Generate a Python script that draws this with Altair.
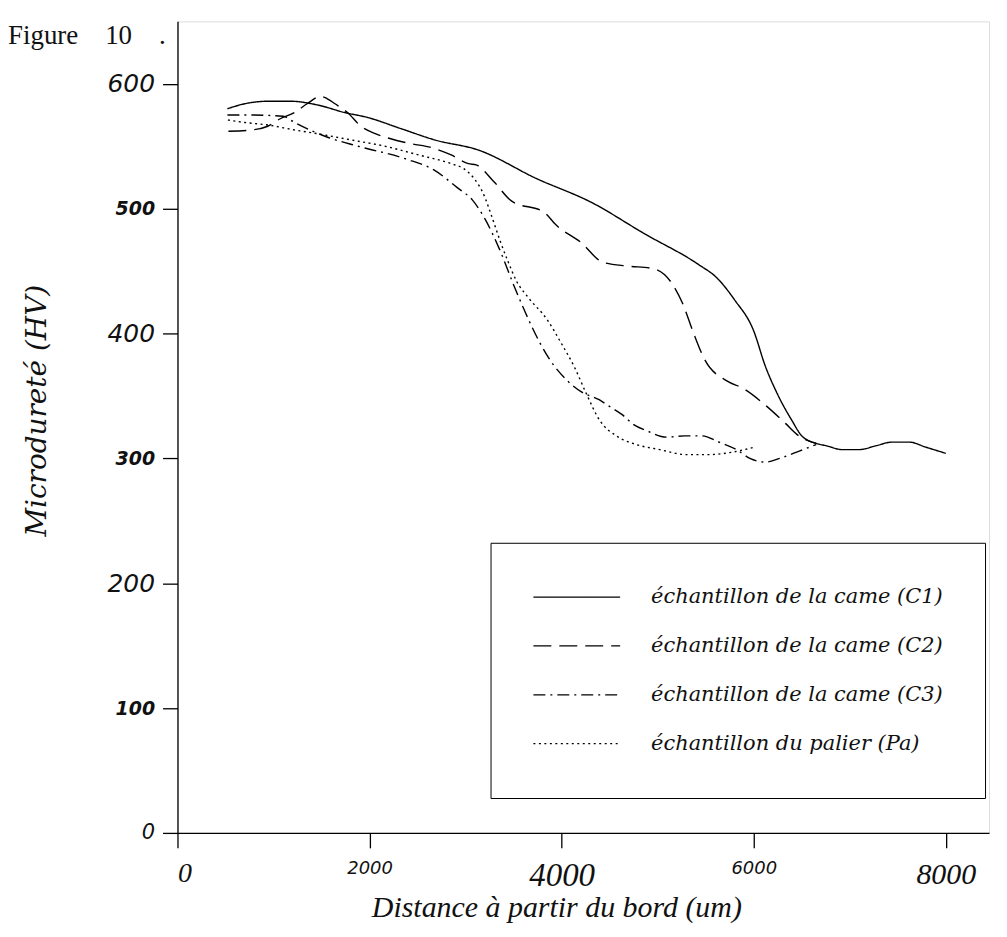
import altair as alt
import pandas as pd

SERIES = [
    "échantillon de la came (C1)",
    "échantillon de la came (C2)",
    "échantillon de la came (C3)",
    "échantillon du palier (Pa)",
]

C1_x = [520, 700, 940, 1180, 1460, 1740, 1980, 2330, 2680, 3130, 3740, 4310, 4860, 5430, 5610,
        5800, 6000, 6120, 6250, 6400, 6500, 6650, 6760, 6920, 7100, 7270, 7440, 7620, 7790, 8000]
C1_y = [580, 584, 586, 586, 583, 577, 573, 564, 555, 547, 524, 505, 480, 455, 445,
        427, 402, 374, 351, 330, 318, 312, 310, 307, 307, 310, 313, 313, 309, 304]

C2_x = [530, 770, 940, 1070, 1220, 1350, 1490, 1560, 1640, 1770, 1910, 2060, 2220, 2430, 2640,
        2850, 3030, 3110, 3290, 3480, 3820, 3940, 4200, 4430, 4690, 4950, 5140, 5260, 5370,
        5490, 5720, 5890, 6130, 6330, 6470, 6650]
C2_y = [562, 563, 566, 572, 577, 584, 590, 588, 584, 577, 566, 560, 556, 552, 549,
        543, 536, 535, 522, 506, 497, 487, 473, 457, 454, 452, 441, 424, 401,
        379, 362, 356, 342, 328, 318, 312]

C3_x = [520, 760, 1100, 1220, 1570, 1880, 2370, 2670, 2910, 3070, 3200, 3350, 3510, 3610, 3680,
        3860, 4090, 4210, 4390, 4490, 4630, 4750, 4890, 5090, 5280, 5460, 5640, 5820, 5960,
        6120, 6270, 6480, 6650]
C3_y = [575, 575, 574, 569, 557, 550, 540, 531, 517, 507, 492, 468, 437, 419, 407,
        381, 360, 353, 347, 342, 335, 327, 322, 317, 318, 318, 313, 307, 300,
        297, 300, 306, 311]

Pa_x = [525, 700, 940, 1220, 1460, 1810, 2160, 2510, 2850, 2980, 3090, 3190, 3280, 3360, 3440,
        3530, 3650, 3850, 3990, 4140, 4250, 4400, 4570, 4780, 5020, 5300, 5540, 5780, 6010]
Pa_y = [571, 569, 567, 563, 560, 555, 550, 543, 536, 532, 524, 511, 492, 474, 458,
        442, 429, 411, 393, 372, 353, 330, 318, 311, 307, 303, 303, 305, 309]

X_TICKS = [0, 2000, 4000, 6000, 8000]
Y_TICKS = [0, 100, 200, 300, 400, 500, 600]

rows = []
for name, xs, ys in zip(SERIES, [C1_x, C2_x, C3_x, Pa_x], [C1_y, C2_y, C3_y, Pa_y]):
    for xv, yv in zip(xs, ys):
        rows.append({"serie": name, "dist": xv, "hv": yv})
df = pd.DataFrame(rows)

INK = "#111111"

x_axis = alt.Axis(
    values=X_TICKS, format="d", grid=False,
    tickSize=15, tickWidth=1.3, tickColor="black",
    domainColor="black", domainWidth=1.3,
    labelPadding=12, labelColor=INK, labelFontStyle="italic",
    labelFont={"condition": {"test": "datum.value % 4000 == 0", "value": "Liberation Serif"},
               "value": "DejaVu Sans"},
    labelFontSize={"condition": [{"test": "datum.value == 4000", "value": 33},
                                 {"test": "datum.value == 8000", "value": 30},
                                 {"test": "datum.value == 0", "value": 28}],
                   "value": 18},
    title="Distance à partir du bord (um)",
    titleFont="Liberation Serif", titleFontStyle="italic", titleFontWeight="normal",
    titleFontSize=30, titleColor=INK, titleBaseline="middle",
    titleX=380, titleY=75,
)

y_axis = alt.Axis(
    values=Y_TICKS, grid=False,
    tickSize=15, tickWidth=1.3, tickColor="black",
    domainColor="black", domainWidth=1.3,
    labelPadding=8, labelColor=INK, labelFont="DejaVu Sans", labelFontStyle="italic",
    labelFontSize={"condition": [{"test": "datum.value == 0", "value": 21},
                                 {"test": "datum.value % 200 == 0", "value": 25}],
                   "value": 19},
    labelFontWeight={"condition": {"test": "datum.value % 200 != 0", "value": "bold"},
                     "value": "normal"},
    title="Microdureté (HV)",
    titleFont="DejaVu Serif", titleFontStyle="italic", titleFontWeight="normal",
    titleFontSize=28, titleColor=INK, titleBaseline="middle",
    titleX=-140, titleY=390,
)

legend = alt.Legend(
    title=None, orient="none", legendX=314, legendY=523,
    symbolType="stroke", symbolSize=7569, symbolStrokeWidth=1.3,
    symbolStrokeColor="black", clipHeight=25,
    labelFont="DejaVu Serif", labelFontStyle="italic", labelFontSize=21,
    labelColor=INK, labelOffset=30, labelLimit=600,
    rowPadding=24, padding=42,
    strokeColor="black", fillColor="white", cornerRadius=0,
)

chart = alt.Chart(df).mark_line(
    color="black", strokeWidth=1.4, interpolate="monotone"
).encode(
    x=alt.X("dist:Q", scale=alt.Scale(domain=[0, 8450], nice=False, zero=False), axis=x_axis),
    y=alt.Y("hv:Q", scale=alt.Scale(domain=[0, 650], nice=False), axis=y_axis),
    strokeDash=alt.StrokeDash(
        "serie:N",
        scale=alt.Scale(domain=SERIES, range=[[1, 0], [18, 8], [12, 5, 2, 5], [2, 3.5]]),
        legend=legend,
    ),
).properties(
    width=814, height=814,
    autosize=alt.AutoSizeParams(type="none"),
    padding={"left": 170, "top": 12, "right": 10, "bottom": 100},
    title=alt.TitleParams(
        text="Figure\u00a0\u00a0\u00a0\u00a010\u00a0\u00a0\u00a0\u00a0.",
        anchor="start", frame="group", orient="top", offset=0,
        dx=-170, dy=50, baseline="alphabetic",
        font="Liberation Serif", fontSize=27, fontWeight="normal", color=INK,
    ),
).configure_view(
    stroke="black", strokeWidth=1.3
).configure(background="white")

chart.save("out.html", embed_options={"renderer": "svg", "actions": False})
